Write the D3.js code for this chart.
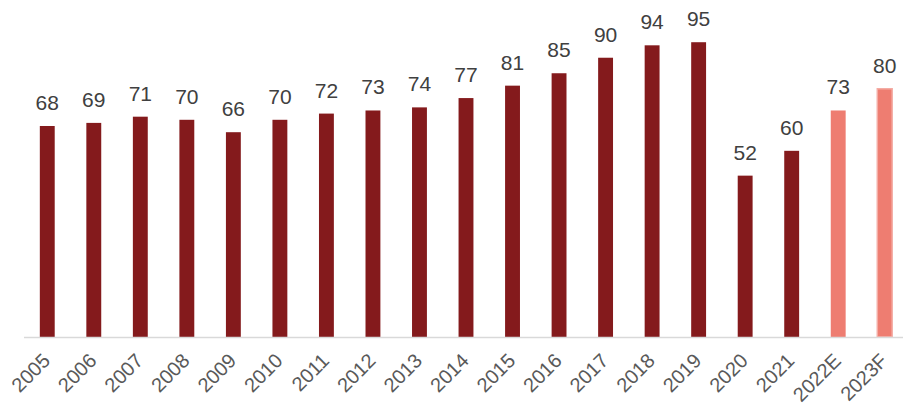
<!DOCTYPE html>
<html>
<head>
<meta charset="utf-8">
<script src="https://cdn.jsdelivr.net/npm/d3@7"></script>
<style>
  body { margin: 0; background: #fff; }
  text { font-family: Arial, "Liberation Sans", sans-serif; }
</style>
</head>
<body>
<div class="chartWrap"></div>
<script>
var years = ['2005','2006','2007','2008','2009','2010','2011','2012','2013','2014','2015','2016','2017','2018','2019','2020','2021','2022E','2023F'];
var values = [68, 69, 71, 70, 66, 70, 72, 73, 74, 77, 81, 85, 90, 94, 95, 52, 60, 73, 80];
var forecast = ['2022E', '2023F'];

var width = 903, height = 403;
var baseY = 337;

var svg = d3.select('.chartWrap')
  .append('svg')
  .attr('width', width)
  .attr('height', height);

var x = d3.scaleBand()
  .domain(years)
  .range([24, 908])
  .paddingInner(0.68)
  .paddingOuter(0.34);

var y = d3.scaleLinear()
  .domain([0, 100])
  .range([baseY, 26.7]);

// bars
svg.selectAll('.bar')
  .data(years)
  .enter()
    .append('rect')
    .attr('class', 'bar')
    .attr('x', function(d){ return x(d); })
    .attr('width', x.bandwidth())
    .attr('y', function(d, i){ return y(values[i]); })
    .attr('height', function(d, i){ return baseY - y(values[i]); })
    .style('fill', function(d){ return forecast.indexOf(d) >= 0 ? '#EE7D71' : '#841A1C'; })
    .style('stroke', function(d){ return d === '2023F' ? '#F4ACA4' : 'none'; })
    .style('stroke-width', 1.5);

// axis line
svg.append('line')
  .attr('x1', 24).attr('x2', 908)
  .attr('y1', baseY + 0.5).attr('y2', baseY + 0.5)
  .style('stroke', '#d9d9d9')
  .style('stroke-width', 1.5);

// value labels
svg.selectAll('.valLabel')
  .data(years)
  .enter()
    .append('text')
    .attr('class', 'valLabel')
    .attr('x', function(d){ return x(d) + x.bandwidth() / 2; })
    .attr('y', function(d, i){ return y(values[i]) - 16; })
    .attr('text-anchor', 'middle')
    .style('font-size', '21px')
    .style('fill', '#404040')
    .text(function(d, i){ return values[i]; });

// tick labels, rotated
var xAxis = d3.axisBottom(x).tickSize(0).tickPadding(0);
var gx = svg.append('g')
  .attr('transform', 'translate(0,' + baseY + ')')
  .call(xAxis);
gx.select('.domain').remove();
gx.selectAll('text')
  .attr('dy', null)
  .attr('y', 0)
  .attr('x', 0)
  .attr('text-anchor', 'end')
  .attr('transform', 'translate(4,25) rotate(-45)')
  .style('font-size', '20px')
  .style('font-family', 'Arial, "Liberation Sans", sans-serif')
  .style('fill', '#595959');
</script>
</body>
</html>
